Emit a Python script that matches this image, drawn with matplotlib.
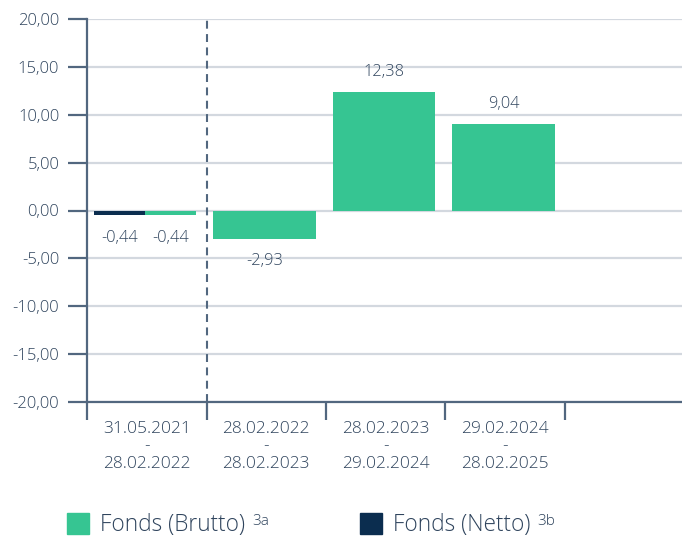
import matplotlib
matplotlib.use("Agg")
import matplotlib.pyplot as plt
import matplotlib.transforms as mtrans
from matplotlib.patches import Rectangle

# data
categories = ["31.05.2021\n-\n28.02.2022", "28.02.2022\n-\n28.02.2023",
              "28.02.2023\n-\n29.02.2024", "29.02.2024\n-\n28.02.2025"]
brutto = [-0.44, -2.93, 12.38, 9.04]
netto = [-0.44, None, None, None]
yticks = [20, 15, 10, 5, 0, -5, -10, -15, -20]

green = "#36C592"
navy = "#0B2D4F"
axis_col = "#52677F"
grid_col = "#D3D8DF"
text_col = "#2F445D"

plt.rcParams["font.family"] = ["Open Sans", "DejaVu Sans"]
plt.rcParams["font.weight"] = "light"

fig = plt.figure(figsize=(6.82, 5.38), dpi=100)
ax = fig.add_axes([87 / 682, 1 - 402 / 538, 1 - 87 / 682, (402 - 19) / 538])

def fmt(v):
    return f"{v:.2f}".replace(".", ",")

w = 0.855
for i, v in enumerate(brutto):
    c = i + 0.485
    if netto[i] is not None:
        # Netto links, Brutto rechts
        ax.bar(c - w / 4, netto[i], width=w / 2, color=navy, zorder=3)
        ax.bar(c + w / 4, v, width=w / 2, color=green, zorder=3)
        for x, val in [(c - w / 4, netto[i]), (c + w / 4, v)]:
            ax.annotate(fmt(val), (x, val), xytext=(0, -16.5), textcoords="offset points",
                        ha="center", va="center", fontsize=11.8, color=text_col)
    else:
        ax.bar(c, v, width=w, color=green, zorder=3)
        off = 14.5 if v > 0 else -16.5
        ax.annotate(fmt(v), (c, v), xytext=(0, off), textcoords="offset points",
                    ha="center", va="center", fontsize=11.8, color=text_col)

# gestrichelte Trennlinie
ax.axvline(1, color=axis_col, lw=1.5, linestyle=(0, (3.8, 2.6)), zorder=2)

ax.set_ylim(-20, 20)
ax.set_xlim(0, (682 - 87) / 119.5)
ax.set_yticks(yticks)
ax.set_yticklabels([fmt(t) for t in yticks])
ax.set_xticks([0, 1, 2, 3, 4])
ax.set_xticklabels([])

# Kategorien unter der Achse
shift = mtrans.ScaledTranslation(0, -19 / 100, fig.dpi_scale_trans)
for i, lab in enumerate(categories):
    ax.text(i + 0.5, -20, lab, transform=ax.transData + shift, ha="center", va="top",
            fontsize=12.5, color=text_col, linespacing=1.12)

ax.grid(axis="y", color=grid_col, lw=1.6, zorder=0)
for s in ["top", "right"]:
    ax.spines[s].set_visible(False)
for s in ["left", "bottom"]:
    ax.spines[s].set_color(axis_col)
    ax.spines[s].set_linewidth(1.6)
ax.tick_params(axis="y", length=13.5, width=1.6, color=axis_col, labelcolor=text_col,
               labelsize=12, pad=6.5)
ax.tick_params(axis="x", length=13, width=1.6, color=axis_col)

# Legende von Hand
def legend_item(x_px, color, label, sup):
    fig.patches.append(Rectangle((x_px / 682, 1 - 534 / 538), 22 / 682, 21 / 538,
                                 transform=fig.transFigure, color=color))
    t = fig.text((x_px + 33) / 682, 1 - 531 / 538, label, fontsize=16.3, color=text_col,
                 va="baseline", ha="left")
    fig.canvas.draw()
    bb = t.get_window_extent()
    fig.text((bb.x1 + 7) / 682, 1 - 525 / 538, sup, fontsize=11, color=text_col,
             va="baseline", ha="left")

legend_item(67, green, "Fonds (Brutto)", "3a")
legend_item(360, navy, "Fonds (Netto)", "3b")

fig.savefig("out.png", dpi=100)
